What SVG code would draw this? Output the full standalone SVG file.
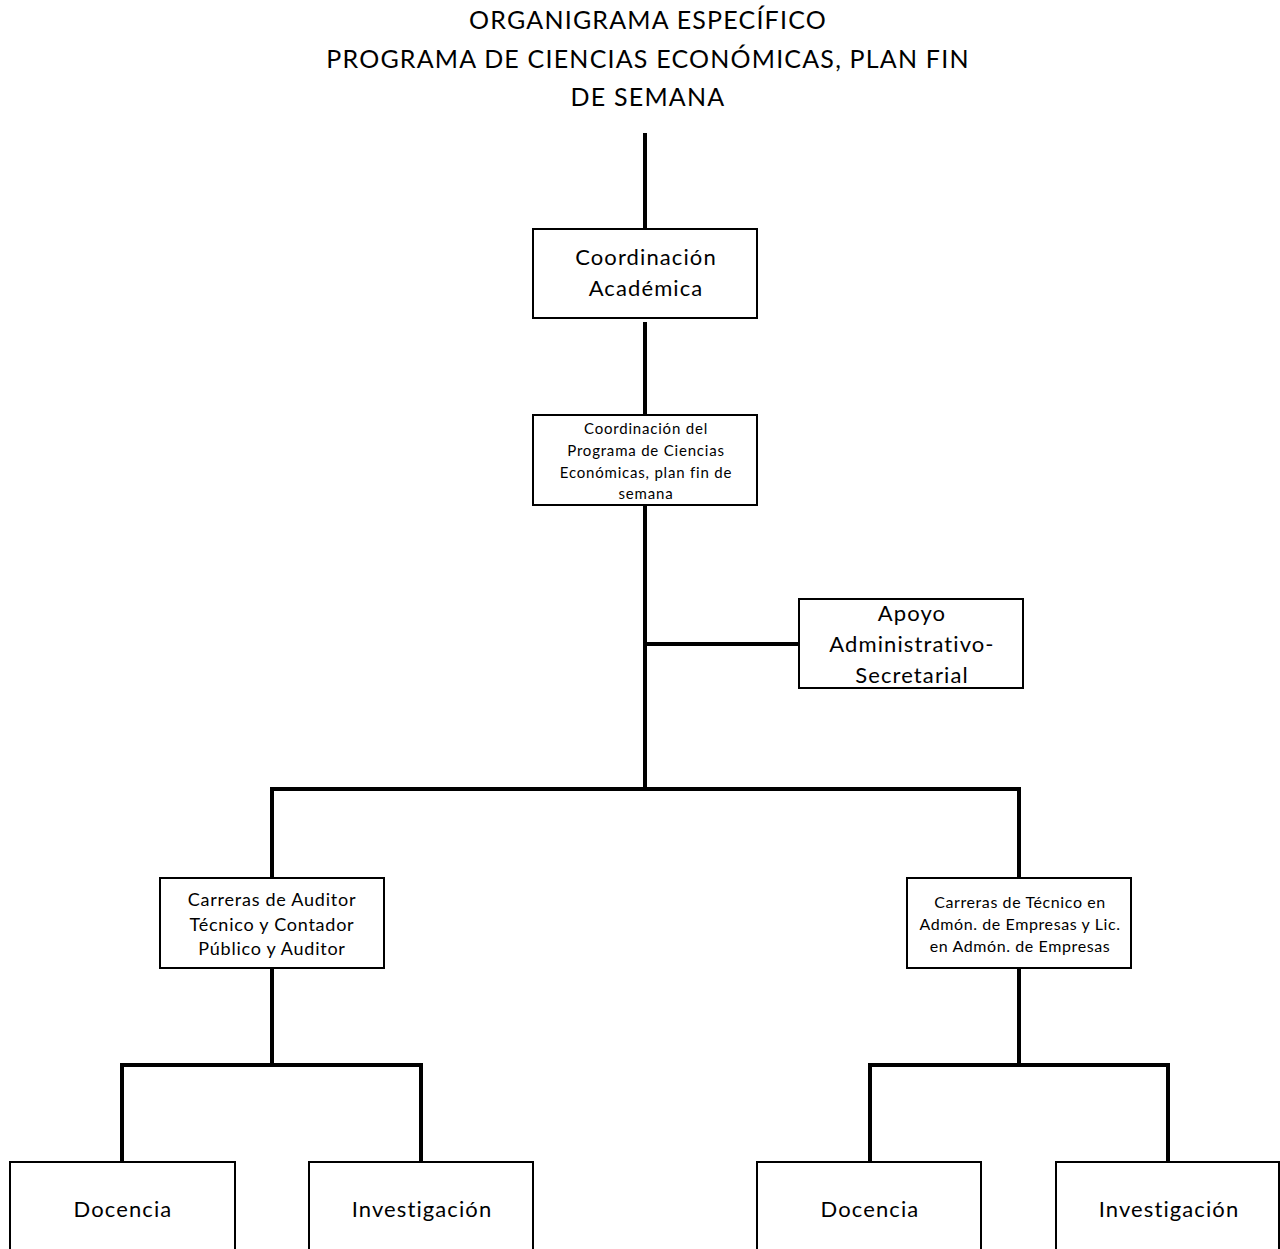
<svg xmlns="http://www.w3.org/2000/svg" width="1280" height="1249" viewBox="0 0 1280 1249">
<style>
.box{fill:#fff;stroke:#000;stroke-width:2}
.conn{fill:none;stroke:#000;stroke-width:4}
text{font-family:Lato,"Open Sans","Liberation Sans",sans-serif;fill:#000;text-anchor:middle}
.t22{font-size:22px;letter-spacing:1.1px}
.t14{font-size:15px;letter-spacing:0.8px}
.t18{font-size:18px;letter-spacing:0.75px}
.t15{font-size:16px;letter-spacing:0.6px}
.title{font-size:25px;letter-spacing:1.2px}
</style>
<rect width="1280" height="1249" fill="#fff"/>
<g id="title">
<text class="title" x="648" y="29">ORGANIGRAMA ESPECÍFICO</text>
<text class="title" x="648" y="68">PROGRAMA DE CIENCIAS ECONÓMICAS, PLAN FIN</text>
<text class="title" x="648" y="106">DE SEMANA</text>
</g>
<g id="connectors">
<path class="conn" d="M645 133V229"/>
<path class="conn" d="M645 322V415"/>
<path class="conn" d="M645 505V789"/>
<path class="conn" d="M645 644H799"/>
<path class="conn" d="M272 878V789H1019V878"/>
<path class="conn" d="M272 968V1065"/>
<path class="conn" d="M122 1162V1065H421V1162"/>
<path class="conn" d="M1019 968V1065"/>
<path class="conn" d="M870 1162V1065H1168V1162"/>
</g>
<g id="coord-academica">
<rect class="box" x="533" y="229" width="224" height="89"/>
<text class="t22" x="646" y="265">Coordinación</text>
<text class="t22" x="646" y="296">Académica</text>
</g>
<g id="coord-programa">
<rect class="box" x="533" y="415" width="224" height="90"/>
<text class="t14" x="646" y="434">Coordinación del</text>
<text class="t14" x="646" y="456">Programa de Ciencias</text>
<text class="t14" x="646" y="478">Económicas, plan fin de</text>
<text class="t14" x="646" y="499">semana</text>
</g>
<g id="apoyo">
<rect class="box" x="799" y="599" width="224" height="89"/>
<text class="t22" x="912" y="621">Apoyo</text>
<text class="t22" x="912" y="652">Administrativo-</text>
<text class="t22" x="912" y="683">Secretarial</text>
</g>
<g id="carreras-auditor">
<rect class="box" x="160" y="878" width="224" height="90"/>
<text class="t18" x="272" y="906">Carreras de Auditor</text>
<text class="t18" x="272" y="931">Técnico y Contador</text>
<text class="t18" x="272" y="955">Público y Auditor</text>
</g>
<g id="carreras-admon">
<rect class="box" x="907" y="878" width="224" height="90"/>
<text class="t15" x="1020" y="908">Carreras de Técnico en</text>
<text class="t15" x="1020" y="930">Admón. de Empresas y Lic.</text>
<text class="t15" x="1020" y="952">en Admón. de Empresas</text>
</g>
<g id="docencia-1">
<rect class="box" x="10" y="1162" width="225" height="100"/>
<text class="t22" x="123" y="1217">Docencia</text>
</g>
<g id="investigacion-1">
<rect class="box" x="309" y="1162" width="224" height="100"/>
<text class="t22" x="422" y="1217">Investigación</text>
</g>
<g id="docencia-2">
<rect class="box" x="757" y="1162" width="224" height="100"/>
<text class="t22" x="870" y="1217">Docencia</text>
</g>
<g id="investigacion-2">
<rect class="box" x="1056" y="1162" width="223" height="100"/>
<text class="t22" x="1169" y="1217">Investigación</text>
</g>
</svg>
